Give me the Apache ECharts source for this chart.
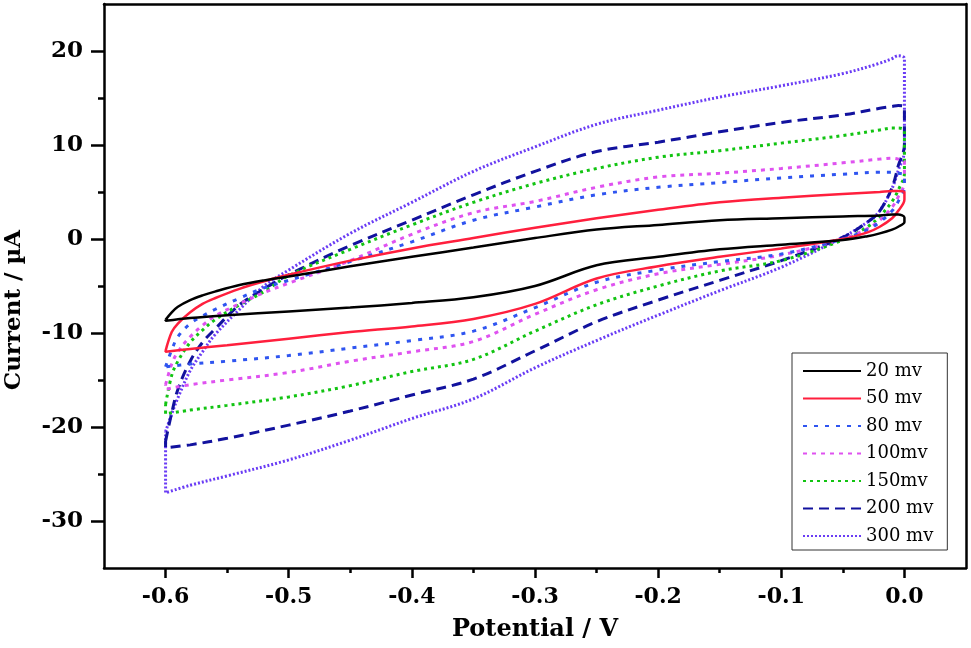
<!DOCTYPE html>
<html>
<head>
<meta charset="utf-8">
<script src="https://cdn.jsdelivr.net/npm/echarts@6/dist/echarts.min.js"></script>
<style>
  html, body { margin: 0; padding: 0; background: #fff; }
  #main { width: 971px; height: 648px; }
</style>
</head>
<body>
<div id="main"></div>
<script>
// potential grid of the forward (upper) and reverse (lower) scans, V
var potentialFwd = [-0.6, -0.595, -0.59, -0.58, -0.57, -0.56, -0.54, -0.52, -0.5, -0.45, -0.4, -0.35, -0.3, -0.25, -0.2, -0.15, -0.1, -0.05, -0.02, -0.01, -0.005, 0.0];
var potentialRev = [0.0, -0.005, -0.01, -0.02, -0.03, -0.05, -0.1, -0.15, -0.2, -0.25, -0.3, -0.35, -0.4, -0.45, -0.5, -0.55, -0.58, -0.6];

// current, uA
var fwd20  = [-8.6, -7.8, -7.2, -6.5, -6.0, -5.6, -4.9, -4.4, -4.0, -2.9, -1.9, -0.9, 0.1, 1.0, 1.5, 2.0, 2.2, 2.4, 2.5, 2.6, 2.6, 2.3];
var rev20  = [1.8, 1.3, 1.0, 0.6, 0.3, -0.1, -0.6, -1.1, -1.9, -2.8, -5.0, -6.2, -6.8, -7.3, -7.7, -8.1, -8.4, -8.7];
var fwd50  = [-11.9, -9.9, -9.0, -7.8, -6.9, -6.3, -5.3, -4.5, -3.8, -2.3, -1.0, 0.1, 1.2, 2.2, 3.1, 3.9, 4.4, 4.8, 5.0, 5.1, 5.1, 5.0];
var rev50  = [4.2, 3.0, 2.2, 1.3, 0.7, 0.0, -1.0, -1.9, -2.9, -4.2, -6.9, -8.5, -9.3, -9.9, -10.6, -11.3, -11.7, -12.0];
var fwd80  = [-13.6, -11.8, -10.4, -9.0, -8.2, -7.5, -6.3, -5.2, -4.4, -2.4, -0.3, 2.0, 3.4, 4.7, 5.5, 6.0, 6.5, 6.9, 7.1, 7.1, 7.0, 6.8];
var rev80  = [5.5, 4.0, 3.0, 1.8, 1.0, 0.0, -1.6, -2.4, -3.3, -4.6, -7.3, -9.8, -10.8, -11.6, -12.4, -13.0, -13.3, -13.6];
var fwd100 = [-15.5, -13.3, -12.0, -10.4, -9.2, -8.2, -6.9, -5.7, -4.7, -2.3, 0.5, 2.8, 4.0, 5.5, 6.6, 7.0, 7.5, 8.1, 8.5, 8.6, 8.5, 8.2];
var rev100 = [6.0, 4.5, 3.4, 2.0, 1.1, 0.0, -1.7, -2.7, -3.7, -5.4, -8.0, -10.9, -12.0, -13.0, -14.2, -15.0, -15.5, -16.0];
var fwd150 = [-17.6, -14.5, -13.0, -11.0, -9.7, -8.6, -7.0, -5.6, -3.9, -1.1, 1.5, 3.9, 5.9, 7.5, 8.7, 9.4, 10.2, 11.0, 11.6, 11.8, 11.8, 11.5];
var rev150 = [7.0, 5.2, 4.0, 2.4, 1.3, -0.1, -2.3, -3.4, -5.0, -7.0, -9.8, -12.8, -14.1, -15.6, -16.8, -17.7, -18.2, -18.6];
var fwd200 = [-21.5, -18.5, -16.0, -13.0, -11.0, -9.6, -7.0, -5.3, -3.8, -0.7, 2.0, 4.7, 7.2, 9.3, 10.3, 11.4, 12.4, 13.2, 13.9, 14.1, 14.2, 14.0];
var rev200 = [10.0, 7.8, 5.5, 3.0, 1.8, 0.2, -2.3, -4.4, -6.5, -8.8, -11.9, -14.9, -16.6, -18.3, -19.8, -21.2, -21.9, -22.2];
var fwd300 = [-20.5, -18.6, -16.9, -14.0, -12.0, -10.2, -7.5, -5.0, -3.3, 0.6, 3.9, 7.2, 9.8, 12.2, 13.7, 15.1, 16.3, 17.6, 18.7, 19.2, 19.5, 19.2];
var rev300 = [9.4, 7.3, 5.4, 3.0, 1.8, 0.2, -3.0, -5.5, -8.1, -10.8, -13.7, -17.0, -19.1, -21.4, -23.5, -25.2, -26.2, -27.0];

var scanNames = ['20 mv', '50 mv', '80 mv', '100mv', '150mv', '200 mv', '300 mv'];

// tick positions
var xMajor = [-0.6, -0.5, -0.4, -0.3, -0.2, -0.1, 0.0];
var xMinor = [-0.55, -0.45, -0.35, -0.25, -0.15, -0.05];
var yMajor = [-30, -20, -10, 0, 10, 20];
var yMinor = [-25, -15, -5, 5, 15];

// join forward + reverse scan into one closed loop
function loop(fwd, rev) {
	var pts = [];
	for (var i = 0; i < fwd.length; i++) pts.push([potentialFwd[i], fwd[i]]);
	for (var j = 0; j < rev.length; j++) pts.push([potentialRev[j], rev[j]]);
	pts.push([potentialFwd[0], fwd[0]]);
	return pts;
}

var looks = [
	{ color: '#000000', type: 'solid', width: 2.5 },
	{ color: '#ff1f3d', type: 'solid', width: 2.5 },
	{ color: '#2f55f0', type: [4, 7], width: 3 },
	{ color: '#df52f0', type: [4, 5], width: 3 },
	{ color: '#12c412', type: [3, 4], width: 3 },
	{ color: '#12129e', type: [10, 6], width: 3 },
	{ color: '#6a3cf5', type: [2, 2], width: 3 }
];
var loops = [
	loop(fwd20, rev20), loop(fwd50, rev50), loop(fwd80, rev80), loop(fwd100, rev100),
	loop(fwd150, rev150), loop(fwd200, rev200), loop(fwd300, rev300)
];

var series = [];
for (var k = 0; k < scanNames.length; k++) {
	series.push({
		name: scanNames[k],
		type: 'line',
		xAxisIndex: 0,
		yAxisIndex: 0,
		showSymbol: false,
		symbol: 'none',
		smooth: 0.35,
		z: 10 - k,
		lineStyle: { color: looks[k].color, type: looks[k].type, width: looks[k].width, cap: 'butt' },
		itemStyle: { color: looks[k].color },
		data: loops[k]
	});
}

var serif = 'DejaVu Serif';
var frameLine = { show: true, onZero: false, lineStyle: { color: '#000', width: 2.5 } };

var myChart = echarts.init(document.getElementById('main'));
var option = {
	animation: false,
	backgroundColor: '#fff',
	grid: { left: 104, right: 5, top: 4, bottom: 80, outerBoundsMode: 'none', containLabel: false },
	legend: {
		orient: 'vertical',
		left: 792,
		top: 353,
		padding: [8, 14, 4, 10],
		itemWidth: 58,
		itemHeight: 14,
		itemGap: 7.5,
		borderColor: '#333',
		borderWidth: 1,
		backgroundColor: '#fff',
		itemStyle: { opacity: 0 },
		textStyle: { fontFamily: serif, fontSize: 18, color: '#000', lineHeight: 20 },
		data: scanNames
	},
	xAxis: [
		{
			type: 'value', position: 'bottom', min: -0.65, max: 0.05,
			name: 'Potential / V', nameLocation: 'middle', nameGap: 50,
			nameTextStyle: { fontFamily: serif, fontWeight: 'bold', fontSize: 24, color: '#000' },
			axisLine: frameLine,
			axisTick: { show: true, inside: false, length: 10, customValues: xMajor, lineStyle: { color: '#000', width: 2.5 } },
			axisLabel: {
				customValues: xMajor, margin: 18,
				fontFamily: serif, fontWeight: 'bold', fontSize: 22, color: '#000',
				formatter: function (v) { return v.toFixed(1); }
			},
			splitLine: { show: false }
		},
		{
			type: 'value', position: 'bottom', min: -0.65, max: 0.05,
			axisLine: { show: false, onZero: false },
			axisTick: { show: true, length: 5, customValues: xMinor, lineStyle: { color: '#000', width: 2.5 } },
			axisLabel: { show: false },
			splitLine: { show: false }
		},
		{
			type: 'value', position: 'top', min: -0.65, max: 0.05,
			axisLine: frameLine, axisTick: { show: false }, axisLabel: { show: false }, splitLine: { show: false }
		}
	],
	yAxis: [
		{
			type: 'value', position: 'left', min: -35, max: 25,
			name: 'Current / \u00b5A', nameLocation: 'middle', nameGap: 78, nameRotate: 90,
			nameTextStyle: { fontFamily: serif, fontWeight: 'bold', fontSize: 23, color: '#000', padding: [0, 48, 0, 0] },
			axisLine: frameLine,
			axisTick: { show: true, inside: false, length: 13, customValues: yMajor, lineStyle: { color: '#000', width: 2.5 } },
			axisLabel: {
				customValues: yMajor, margin: 21,
				fontFamily: serif, fontWeight: 'bold', fontSize: 23, color: '#000'
			},
			splitLine: { show: false }
		},
		{
			type: 'value', position: 'left', min: -35, max: 25,
			axisLine: { show: false, onZero: false },
			axisTick: { show: true, length: 6, customValues: yMinor, lineStyle: { color: '#000', width: 2.5 } },
			axisLabel: { show: false },
			splitLine: { show: false }
		},
		{
			type: 'value', position: 'right', min: -35, max: 25,
			axisLine: frameLine, axisTick: { show: false }, axisLabel: { show: false }, splitLine: { show: false }
		}
	],
	series: series
};
myChart.setOption(option);
</script>
</body>
</html>
